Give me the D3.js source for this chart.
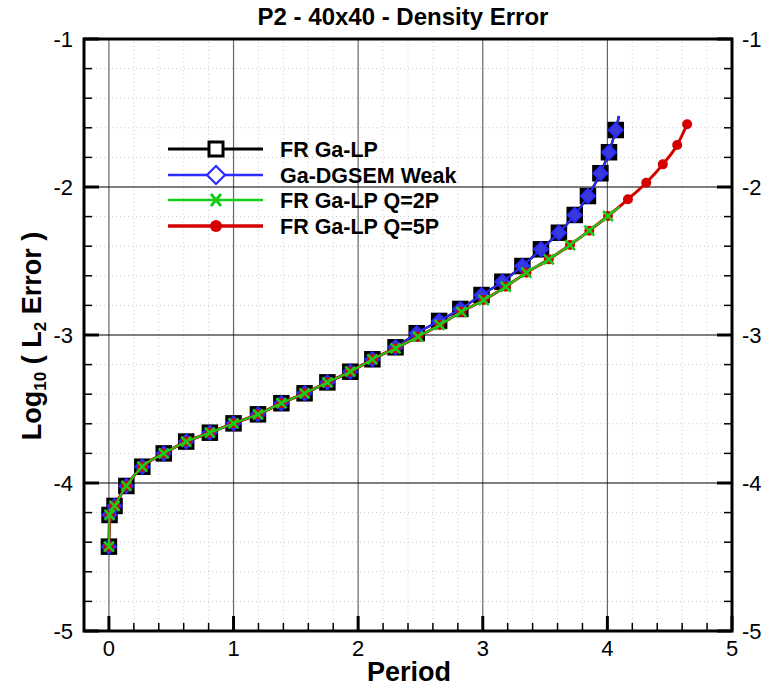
<!DOCTYPE html>
<html>
<head>
<meta charset="utf-8">
<script src="https://cdn.jsdelivr.net/npm/d3@7"></script>
<style>
  body { margin: 0; background: #fff; }
  text { font-family: "Liberation Sans", Arial, Helvetica, sans-serif; }
</style>
</head>
<body>
<div id="chart"></div>
<script>
// values
const periodFR = [0, 0.005, 0.045, 0.14, 0.268, 0.44, 0.62, 0.81, 1.0, 1.196, 1.384, 1.57, 1.753, 1.937, 2.114, 2.30, 2.47, 2.65, 2.82, 2.99, 3.157, 3.318, 3.467, 3.611, 3.738, 3.844, 3.944, 4.013, 4.067, 4.093];
const errFR = [-4.43, -4.216, -4.155, -4.02, -3.89, -3.80, -3.72, -3.66, -3.597, -3.536, -3.461, -3.394, -3.320, -3.248, -3.164, -3.083, -2.988, -2.905, -2.824, -2.730, -2.640, -2.534, -2.421, -2.309, -2.189, -2.061, -1.907, -1.765, -1.615, -1.52];
const periodDG = [0, 0.005, 0.045, 0.14, 0.268, 0.44, 0.62, 0.81, 1.0, 1.196, 1.384, 1.57, 1.753, 1.937, 2.114, 2.30, 2.47, 2.65, 2.82, 2.99, 3.157, 3.318, 3.467, 3.611, 3.738, 3.844, 3.944, 4.013, 4.067, 4.093];
const errDG = [-4.43, -4.216, -4.155, -4.02, -3.89, -3.80, -3.72, -3.66, -3.597, -3.536, -3.461, -3.394, -3.320, -3.248, -3.164, -3.083, -2.988, -2.905, -2.824, -2.730, -2.640, -2.534, -2.421, -2.309, -2.189, -2.061, -1.907, -1.765, -1.615, -1.52];
const periodQ2 = [0, 0.005, 0.045, 0.14, 0.268, 0.44, 0.62, 0.81, 1.0, 1.196, 1.384, 1.57, 1.753, 1.937, 2.114, 2.30, 2.48, 2.654, 2.828, 3.007, 3.184, 3.35, 3.53, 3.70, 3.855, 4.005, 4.10];
const errQ2 = [-4.43, -4.216, -4.155, -4.02, -3.89, -3.80, -3.72, -3.66, -3.597, -3.536, -3.461, -3.394, -3.320, -3.248, -3.164, -3.09, -3.011, -2.932, -2.843, -2.764, -2.674, -2.579, -2.489, -2.392, -2.295, -2.196, -2.133];
const periodQ5 = [0, 0.005, 0.045, 0.14, 0.268, 0.44, 0.62, 0.81, 1.0, 1.196, 1.384, 1.57, 1.753, 1.937, 2.114, 2.30, 2.48, 2.654, 2.828, 3.007, 3.184, 3.35, 3.53, 3.70, 3.855, 4.005, 4.165, 4.312, 4.445, 4.56, 4.64];
const errQ5 = [-4.43, -4.216, -4.155, -4.02, -3.89, -3.80, -3.72, -3.66, -3.597, -3.536, -3.461, -3.394, -3.320, -3.248, -3.164, -3.09, -3.011, -2.932, -2.843, -2.764, -2.674, -2.579, -2.489, -2.392, -2.295, -2.196, -2.083, -1.971, -1.847, -1.716, -1.576];

const seriesNames = ["FR Ga-LP", "Ga-DGSEM Weak", "FR Ga-LP Q=2P", "FR Ga-LP Q=5P"];
const xTicks = [0, 1, 2, 3, 4, 5];
const yTicks = [-5, -4, -3, -2, -1];

const W = 761, H = 687;
const svg = d3.select("#chart").append("svg").attr("width", W).attr("height", H);

const x = d3.scaleLinear().domain([-0.2, 5]).range([84, 732]);
const y = d3.scaleLinear().domain([-5, -1]).range([631, 39]);

// styles; "endMark" false = run end has no symbol (symbols skipped by distance)
const series = [
  { name: seriesNames[0], px: periodFR, py: errFR, color: "#000", lw: 2.5, sym: "square", endMark: false },
  { name: seriesNames[1], px: periodDG, py: errDG, color: "#2b2bff", lw: 2, sym: "diamond", endMark: false },
  { name: seriesNames[3], px: periodQ5, py: errQ5, color: "#d40000", lw: 3, sym: "circle", endMark: true },
  { name: seriesNames[2], px: periodQ2, py: errQ2, color: "#19cc19", lw: 2, sym: "cross", endMark: false }
];

// minor dotted grid
const minorX = d3.range(-0.2, 5.0001, 0.2).filter(v => Math.abs(v - Math.round(v)) > 1e-6);
const minorY = d3.range(-5, -0.9999, 0.2).filter(v => Math.abs(v - Math.round(v)) > 1e-6);
const grid = svg.append("g");
grid.selectAll(".mgx").data(minorX).join("line")
  .attr("x1", d => x(d)).attr("x2", d => x(d)).attr("y1", y(-5)).attr("y2", y(-1))
  .attr("stroke", "#ccc").attr("stroke-width", 1).attr("stroke-dasharray", "1,3");
grid.selectAll(".mgy").data(minorY).join("line")
  .attr("y1", d => y(d)).attr("y2", d => y(d)).attr("x1", x(-0.2)).attr("x2", x(5))
  .attr("stroke", "#ccc").attr("stroke-width", 1).attr("stroke-dasharray", "1,3");

// major grid
grid.selectAll(".gx").data(xTicks.slice(0, -1)).join("line")
  .attr("x1", d => x(d)).attr("x2", d => x(d)).attr("y1", y(-5)).attr("y2", y(-1))
  .attr("stroke", "#666").attr("stroke-width", 1.2);
grid.selectAll(".gy").data(yTicks.slice(1, -1)).join("line")
  .attr("y1", d => y(d)).attr("y2", d => y(d)).attr("x1", x(-0.2)).attr("x2", x(5))
  .attr("stroke", "#000").attr("stroke-width", 1.2);

// ticks (inward)
const ax = svg.append("g");
const minorTickX = d3.range(0, 5.0001, 0.2).filter(v => Math.abs(v - Math.round(v)) > 1e-6);
ax.selectAll(".tmx").data(minorTickX).join("line")
  .attr("x1", d => x(d)).attr("x2", d => x(d)).attr("y1", y(-5)).attr("y2", y(-5) - 8)
  .attr("stroke", "#000").attr("stroke-width", 1.5);
ax.selectAll(".tMx").data(xTicks).join("line")
  .attr("x1", d => x(d)).attr("x2", d => x(d)).attr("y1", y(-5)).attr("y2", y(-5) - 15)
  .attr("stroke", "#000").attr("stroke-width", 3);
[x(-0.2), x(5)].forEach((x0, i) => {
  const dir = i === 0 ? 1 : -1;
  ax.selectAll(".tmy" + i).data(minorY).join("line")
    .attr("y1", d => y(d)).attr("y2", d => y(d)).attr("x1", x0).attr("x2", x0 + dir * 8)
    .attr("stroke", "#000").attr("stroke-width", 1.5);
  ax.selectAll(".tMy" + i).data(yTicks).join("line")
    .attr("y1", d => y(d)).attr("y2", d => y(d)).attr("x1", x0).attr("x2", x0 + dir * 15)
    .attr("stroke", "#000").attr("stroke-width", 3);
});

// tick labels
ax.selectAll(".lx").data(xTicks).join("text")
  .attr("x", d => x(d)).attr("y", 656).attr("text-anchor", "middle")
  .attr("font-size", 22).text(d => d);
ax.selectAll(".ly").data(yTicks).join("text")
  .attr("x", 73).attr("y", d => y(d) + 8).attr("text-anchor", "end")
  .attr("font-size", 22).text(d => d);
ax.selectAll(".ry").data(yTicks).join("text")
  .attr("x", 742).attr("y", d => y(d) + 8).attr("text-anchor", "start")
  .attr("font-size", 22).text(d => d);

// curves
const line = d3.line().x(d => x(d[0])).y(d => y(d[1])).curve(d3.curveMonotoneX);

function drawSym(g, sym, color, cx, cy) {
  if (sym === "square") {
    g.append("rect").attr("x", cx - 7).attr("y", cy - 7).attr("width", 14).attr("height", 14)
      .attr("fill", color).attr("stroke", color).attr("stroke-width", 2.5);
  } else if (sym === "diamond") {
    g.append("path").attr("d", `M${cx},${cy - 7}L${cx + 7},${cy}L${cx},${cy + 7}L${cx - 7},${cy}Z`)
      .attr("fill", "#3a3ad8").attr("stroke", color).attr("stroke-width", 2);
  } else if (sym === "circle") {
    g.append("circle").attr("cx", cx).attr("cy", cy).attr("r", 5).attr("fill", color);
  } else if (sym === "cross") {
    g.append("path").attr("d", `M${cx - 5},${cy - 5}L${cx + 5},${cy + 5}M${cx + 5},${cy - 5}L${cx - 5},${cy + 5}`)
      .attr("fill", "none").attr("stroke", color).attr("stroke-width", 2.5);
  }
}

const plot = svg.append("g");
series.forEach(s => {
  const pts = s.px.map((v, i) => [v, s.py[i]]);
  const g = plot.append("g");
  g.append("path").datum(pts).attr("d", line)
    .attr("fill", "none").attr("stroke", s.color).attr("stroke-width", s.lw);
  const marked = s.endMark ? pts : pts.slice(0, -1);
  marked.forEach(p => drawSym(g, s.sym, s.color, x(p[0]), y(p[1])));
});

// frame
svg.append("rect").attr("x", x(-0.2)).attr("y", y(-1))
  .attr("width", x(5) - x(-0.2)).attr("height", y(-5) - y(-1))
  .attr("fill", "none").attr("stroke", "#000").attr("stroke-width", 3);

// legend
const legendRows = [149, 175, 200, 226];
const legendOrder = [0, 1, 3, 2]; // index into series
const legend = svg.append("g");
legendOrder.forEach((si, i) => {
  const s = series[si];
  const ly = legendRows[i];
  legend.append("line").attr("x1", 168).attr("x2", 263).attr("y1", ly).attr("y2", ly)
    .attr("stroke", s.color).attr("stroke-width", s.lw + 0.5);
  if (s.sym === "square") {
    legend.append("rect").attr("x", 209).attr("y", ly - 7).attr("width", 14).attr("height", 14)
      .attr("fill", "#fff").attr("stroke", "#000").attr("stroke-width", 3);
  } else if (s.sym === "diamond") {
    legend.append("path").attr("d", `M216,${ly - 9}L225,${ly}L216,${ly + 9}L207,${ly}Z`)
      .attr("fill", "#fff").attr("stroke", s.color).attr("stroke-width", 2.2);
  } else if (s.sym === "cross") {
    legend.append("path").attr("d", `M211,${ly - 6}L221,${ly + 6}M221,${ly - 6}L211,${ly + 6}`)
      .attr("stroke", s.color).attr("stroke-width", 3);
  } else {
    legend.append("circle").attr("cx", 216).attr("cy", ly).attr("r", 6).attr("fill", s.color);
  }
  legend.append("text").attr("x", 280).attr("y", ly + 8)
    .attr("font-size", 21.5).attr("font-weight", "bold").text(s.name);
});

// titles
svg.append("text").attr("x", 403).attr("y", 25).attr("text-anchor", "middle")
  .attr("font-size", 24).attr("font-weight", "bold").text("P2 - 40x40 - Density Error");
svg.append("text").attr("x", 409).attr("y", 681).attr("text-anchor", "middle")
  .attr("font-size", 27).attr("font-weight", "bold").text("Period");
const yt = svg.append("text").attr("transform", "translate(41,336) rotate(-90)")
  .attr("text-anchor", "middle").attr("font-size", 27).attr("font-weight", "bold");
yt.append("tspan").text("Log");
yt.append("tspan").attr("font-size", 17).attr("dy", 5).text("10");
yt.append("tspan").attr("dy", -5).text(" ( L");
yt.append("tspan").attr("font-size", 17).attr("dy", 5).text("2");
yt.append("tspan").attr("dy", -5).text(" Error )");
</script>
</body>
</html>
